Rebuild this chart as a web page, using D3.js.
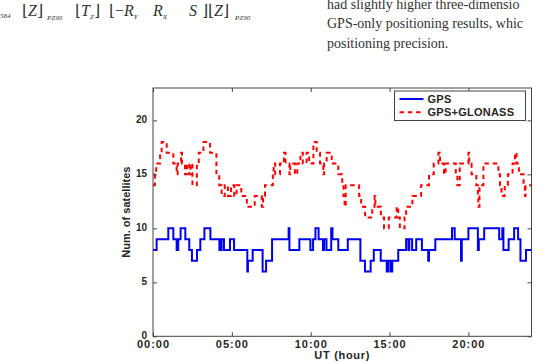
<!DOCTYPE html>
<html>
<head>
<meta charset="utf-8">
<script src="https://cdn.jsdelivr.net/npm/d3@7/dist/d3.min.js"></script>
<style>
  body { margin: 0; background: #fff; }
  svg { display: block; }
  .tick-label { font-family: "Liberation Sans", Arial, sans-serif; font-weight: bold; font-size: 11px; fill: #262626; }
  .page-text { font-family: "Liberation Serif", "DejaVu Serif", serif; font-size: 14px; fill: #333; }
  .formula { font-family: "Liberation Serif", serif; fill: #333; }
</style>
</head>
<body>
<svg id="chart" width="543" height="362"></svg>
<script>
"use strict";

// time in hours (UT) where each step starts, and number of satellites
let gpsHours = [0, 0.23, 0.97, 1.29, 1.5, 1.6, 1.75, 2.05, 2.3, 2.47, 2.79, 3.0, 3.26, 3.64, 4.21, 4.26, 4.3, 4.35,
  4.5, 4.88, 5.14, 5.98, 6.02, 6.32, 6.95, 7.17, 7.55, 8.6, 8.65, 9.28, 9.98, 10.15, 10.3, 10.5, 10.78, 10.85,
  11.0, 11.3, 11.38, 11.75, 12.35, 13.15, 13.44, 13.8, 14.0, 14.44, 14.82, 14.9, 15.05, 15.17, 15.55, 16.05,
  16.2, 16.25, 16.43, 16.69, 17.05, 17.45, 17.5, 17.9, 18.96, 19.13, 19.53, 19.58, 20.0, 20.6, 20.66, 21.0,
  21.95, 22.15, 22.22, 22.55, 22.9, 23.15, 23.3, 23.65, 24];
let gpsCount = [8, 9, 10, 9, 8, 9, 10, 9, 8, 7, 8, 9, 10, 9, 8, 9, 8, 9,
  8, 9, 8, 6, 7, 8, 6, 7, 9, 10, 8, 9, 8, 9, 10, 9, 8, 9,
  8, 10, 9, 8, 9, 7, 6, 7, 8, 7, 6, 7, 6, 7, 8, 9,
  8, 9, 8, 9, 8, 7, 8, 9, 10, 9, 7, 9, 10, 8, 9, 10,
  9, 10, 8, 9, 10, 9, 7, 8, 8];

let glonassHours = [0, 0.12, 0.2, 0.45, 0.55, 0.87, 1.29, 1.5, 1.56, 1.78, 1.84, 2.03, 2.15, 2.3, 2.38, 2.5, 2.78,
  2.9, 3.2, 3.62, 4.02, 4.2, 4.35, 4.55, 4.75, 4.95, 5.15, 5.3, 5.6, 5.95, 6.45, 6.9, 6.98, 7.1, 7.6, 7.65,
  7.75, 8.05, 8.3, 8.4, 8.65, 8.7, 9.0, 9.15, 9.35, 9.5, 9.74, 9.9, 10.17, 10.38, 10.59, 10.8, 10.85, 11.01,
  11.33, 11.75, 12.0, 12.08, 12.15, 12.22, 13.07, 13.2, 13.45, 13.9, 14.05, 14.1, 14.45, 14.65, 14.95, 15.45,
  15.55, 15.65, 15.95, 16.05, 16.45, 17.0, 17.5, 17.8, 18.1, 18.2, 18.45, 18.55, 19.2, 19.3, 19.45, 20.0,
  20.05, 20.2, 20.5, 20.6, 20.63, 20.7, 20.95, 21.9, 22.0, 22.1, 22.3, 22.5, 22.8, 22.95, 23.05, 23.2, 23.5,
  23.58, 23.62, 24];
let glonassCount = [14, 15, 16, 17, 18, 17, 16, 15, 16, 17, 16, 15, 16, 15, 16, 14, 16,
  17, 18, 17, 15, 14, 13, 14, 13, 14, 13, 14, 13, 12, 13, 12, 13, 14, 15, 16,
  15, 16, 17, 16, 15, 16, 15, 16, 17, 16, 17, 16, 18, 17, 16, 15, 16, 17,
  16, 15, 14, 13, 12, 14, 13, 12, 11, 12, 13, 12, 11, 10, 11, 12,
  11, 10, 11, 12, 13, 14, 15, 16, 17, 16, 15, 16, 15, 14, 16, 17,
  16, 15, 14, 13, 12, 14, 16, 15, 14, 13, 14, 15, 16, 17, 16, 15, 14,
  13, 14, 14];

let xTicks = [0, 5, 10, 15, 20];
let xTickLabels = ["00:00", "05:00", "10:00", "15:00", "20:00"];
let yTicks = [0, 5, 10, 15, 20];
let seriesNames = ["GPS", "GPS+GLONASS"];

let svg = d3.select("#chart");
let plotLeft = 153, plotRight = 531.5, plotTop = 88, plotBottom = 336.3;

let x = d3.scaleLinear().domain([0, 24]).range([plotLeft, plotRight]);
let y = d3.scaleLinear().domain([0, 23]).range([plotBottom, plotTop]);

// bits of the paper page above the figure
let formula = svg.append("g").attr("class", "formula");
formula.append("text").attr("x", 0).attr("y", 18).attr("font-size", 7).attr("font-style", "italic").text("584");
formula.append("text").attr("x", 22).attr("y", 16).attr("font-size", 16)
  .html('⌊<tspan font-style="italic">Z</tspan>⌋');
formula.append("text").attr("x", 47).attr("y", 20).attr("font-size", 7).attr("font-style", "italic").text("PZ90");
formula.append("text").attr("x", 75).attr("y", 16).attr("font-size", 16)
  .html('⌊<tspan font-style="italic">T</tspan><tspan font-size="7" font-style="italic" dy="3">Z</tspan><tspan dy="-3">⌋</tspan>');
formula.append("text").attr("x", 109).attr("y", 16).attr("font-size", 16)
  .html('⌊−<tspan font-style="italic">R</tspan><tspan font-size="7" font-style="italic" dy="3">Y</tspan>');
formula.append("text").attr("x", 153).attr("y", 16).attr("font-size", 16)
  .html('<tspan font-style="italic">R</tspan><tspan font-size="7" font-style="italic" dy="3">X</tspan>');
formula.append("text").attr("x", 189).attr("y", 16).attr("font-size", 16)
  .html('<tspan font-style="italic">S</tspan>');
formula.append("text").attr("x", 202).attr("y", 16).attr("font-size", 16)
  .html('⌋⌊<tspan font-style="italic">Z</tspan>⌋');
formula.append("text").attr("x", 235).attr("y", 20).attr("font-size", 7).attr("font-style", "italic").text("PZ90");

let paraLines = ["had slightly higher three-dimensio", "GPS-only positioning results, whic", "positioning precision."];
svg.selectAll(".page-text").data(paraLines).enter()
  .append("text")
  .attr("class", "page-text")
  .attr("x", 327)
  .attr("y", (d, i) => 8.5 + i * 19.5)
  .text(d => d);

// clip for the step lines
svg.append("clipPath").attr("id", "plotClip")
  .append("rect").attr("x", plotLeft).attr("y", plotTop)
  .attr("width", plotRight - plotLeft).attr("height", plotBottom - plotTop);

let stepLine = d3.line()
  .x(d => x(d[0]))
  .y(d => y(d[1]))
  .curve(d3.curveStepAfter);

let gpsData = gpsHours.map((h, i) => [h, gpsCount[i]]);
let glonassData = glonassHours.map((h, i) => [h, glonassCount[i]]);

let plot = svg.append("g").attr("clip-path", "url(#plotClip)");
plot.append("path")
  .datum(gpsData)
  .attr("d", stepLine)
  .attr("fill", "none")
  .attr("stroke", "#0000ee")
  .attr("stroke-width", 2);
plot.append("path")
  .datum(glonassData)
  .attr("d", stepLine)
  .attr("fill", "none")
  .attr("stroke", "#ff0000")
  .attr("stroke-width", 2)
  .attr("stroke-dasharray", "4.5,3.8");

// axes, ticks inside like matlab
let axisColor = "#444";
let xBottom = d3.axisBottom(x).tickValues(xTicks).tickSizeInner(-4).tickSizeOuter(0)
  .tickFormat((d, i) => xTickLabels[i]).tickPadding(4);
let gxb = svg.append("g").attr("transform", `translate(0,${plotBottom})`).call(xBottom);
let xTop = d3.axisTop(x).tickValues(xTicks).tickSizeInner(-4).tickSizeOuter(0).tickFormat("");
let gxt = svg.append("g").attr("transform", `translate(0,${plotTop})`).call(xTop);
let yLeft = d3.axisLeft(y).tickValues(yTicks).tickSizeInner(-4).tickSizeOuter(0).tickPadding(6);
let gyl = svg.append("g").attr("transform", `translate(${plotLeft},0)`).call(yLeft);
let yRight = d3.axisRight(y).tickValues(yTicks).tickSizeInner(-4).tickSizeOuter(0).tickFormat("");
let gyr = svg.append("g").attr("transform", `translate(${plotRight},0)`).call(yRight);

[gxb, gxt, gyl, gyr].forEach(g => {
  g.select(".domain").remove();
  g.selectAll(".tick line").attr("stroke", axisColor);
  g.selectAll("text").attr("class", "tick-label").attr("fill", "#262626");
});
gxb.selectAll("text").attr("letter-spacing", "1px");
gyl.selectAll("text").style("font-size", "10px").attr("dy", "0.25em");

svg.append("rect")
  .attr("x", plotLeft).attr("y", plotTop)
  .attr("width", plotRight - plotLeft).attr("height", plotBottom - plotTop)
  .attr("fill", "none").attr("stroke", axisColor).attr("stroke-width", 1);

svg.append("text")
  .attr("class", "tick-label")
  .attr("x", (plotLeft + plotRight) / 2)
  .attr("y", 358.5)
  .attr("text-anchor", "middle")
  .attr("letter-spacing", "0.7px")
  .text("UT (hour)");

svg.append("text")
  .attr("class", "tick-label")
  .attr("font-size", 10.5)
  .attr("transform", `translate(130,${(plotTop + plotBottom) / 2}) rotate(-90)`)
  .attr("text-anchor", "middle")
  .text("Num. of satellites");

// legend
let legend = svg.append("g");
legend.append("rect")
  .attr("x", 394.5).attr("y", 91)
  .attr("width", 131).attr("height", 29.5)
  .attr("fill", "#fff").attr("stroke", axisColor).attr("stroke-width", 1);
let legendRows = legend.selectAll(".leg").data(seriesNames).enter().append("g")
  .attr("transform", (d, i) => `translate(0,${99 + i * 13.3})`);
legendRows.append("line")
  .attr("x1", 399.5).attr("x2", 423.5)
  .attr("stroke", (d, i) => i === 0 ? "#0000ee" : "#ff0000")
  .attr("stroke-width", 2)
  .attr("stroke-dasharray", (d, i) => i === 0 ? null : "4.5,3.8");
legendRows.append("text")
  .attr("class", "tick-label")
  .attr("x", 427.5).attr("y", 4)
  .attr("letter-spacing", "0.25px")
  .text(d => d);
</script>
</body>
</html>
